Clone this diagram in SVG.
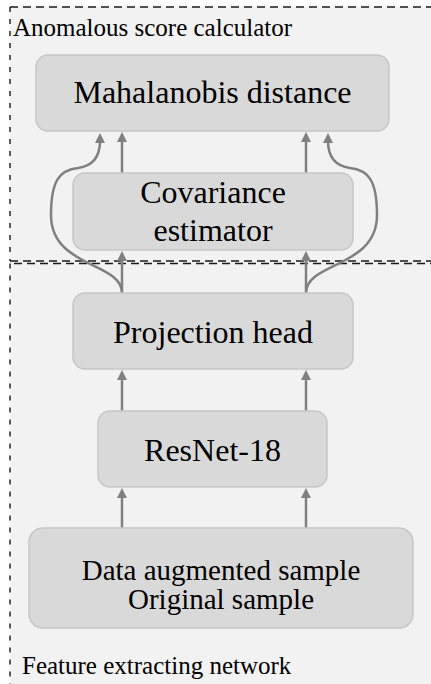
<svg xmlns="http://www.w3.org/2000/svg" width="431" height="684" viewBox="0 0 431 684">
<style>
.box{fill:#d9d9d9;stroke:#c6c6c6;stroke-width:1.5}
text{font-family:'Liberation Serif','Times New Roman',serif;fill:#000}
.t{text-anchor:middle}
.lbl{font-size:25px}
.arr{fill:none;stroke:#808080;stroke-width:2.5;marker-end:url(#ah)}
.dh{stroke:#1a1a1a;stroke-width:1.6;stroke-dasharray:8 5;fill:none}
.dv{stroke:#1a1a1a;stroke-width:1.4;stroke-dasharray:5 7;fill:none}
</style>
<defs>
<marker id="ah" markerUnits="userSpaceOnUse" markerWidth="11" markerHeight="11" refX="2" refY="5" orient="auto">
<path d="M0,0 L10,5 L0,10 z" fill="#808080"/>
</marker>
</defs>
<rect x="0" y="0" width="431" height="684" fill="#ffffff"/>
<g id="frames">
<rect x="10" y="7" width="421" height="677" fill="#f2f2f2"/>
<line class="dh" x1="10" y1="7" x2="431" y2="7"/>
<line class="dv" x1="10" y1="7" x2="10" y2="261"/>
<line class="dh" x1="10" y1="261" x2="431" y2="261"/>
<line class="dh" x1="14" y1="263.5" x2="431" y2="263.5"/>
<line class="dv" x1="10" y1="263.5" x2="10" y2="684"/>
</g>
<g id="group-labels">
<text class="lbl" x="13" y="36">Anomalous score calculator</text>
<text class="lbl" x="22" y="674">Feature extracting network</text>
</g>
<g id="connectors">
<line class="arr" x1="122" y1="528" x2="122" y2="496"/>
<line class="arr" x1="306" y1="528" x2="306" y2="496"/>
<line class="arr" x1="122" y1="411" x2="122" y2="378"/>
<line class="arr" x1="306" y1="411" x2="306" y2="378"/>
<line class="arr" x1="122" y1="293" x2="122" y2="259"/>
<line class="arr" x1="306" y1="293" x2="306" y2="259"/>
<line class="arr" x1="122" y1="173" x2="122" y2="140"/>
<line class="arr" x1="306" y1="173" x2="306" y2="140"/>
<path class="arr" d="M122,293 C122,262 51,268 51,215 C51,180 60,170 78,168 C92,166 100,157 100,141"/>
<path class="arr" d="M306,293 C306,262 377,268 377,215 C377,180 368,170 350,168 C336,166 328,157 328,141"/>
</g>
<g id="mahalanobis">
<rect class="box" x="36" y="55" width="353" height="76" rx="12"/>
<text class="t" x="212.5" y="103" font-size="32">Mahalanobis distance</text>
</g>
<g id="covariance">
<rect class="box" x="73" y="173" width="280" height="77" rx="12"/>
<text class="t" x="213" y="203" font-size="32">Covariance</text>
<text class="t" x="213" y="241" font-size="32">estimator</text>
</g>
<g id="projection">
<rect class="box" x="73" y="293" width="280" height="76" rx="12"/>
<text class="t" x="213" y="343" font-size="32">Projection head</text>
</g>
<g id="resnet">
<rect class="box" x="98" y="411" width="229" height="76" rx="12"/>
<text class="t" x="212.5" y="461" font-size="32">ResNet-18</text>
</g>
<g id="data">
<rect class="box" x="29" y="528" width="384" height="100" rx="14"/>
<text class="t" x="221" y="580" font-size="29">Data augmented sample</text>
<text class="t" x="221" y="609" font-size="29">Original sample</text>
</g>
</svg>
